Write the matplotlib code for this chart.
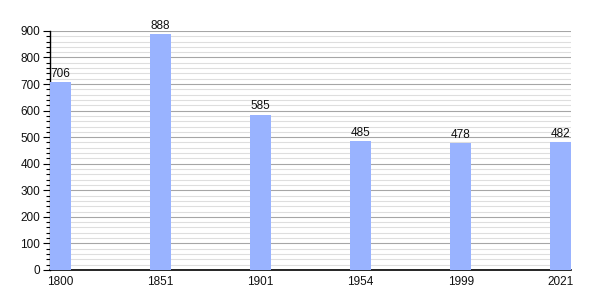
import matplotlib
matplotlib.use("Agg")
import matplotlib.pyplot as plt
from matplotlib.ticker import MultipleLocator

plt.rcParams["font.family"] = ["Liberation Sans", "DejaVu Sans"]

anni = ["1800", "1851", "1901", "1954", "1999", "2021"]
abitanti = [706, 888, 585, 485, 478, 482]

colore_barre = "#99b3ff"

fig = plt.figure(figsize=(6, 3), dpi=100)
ax = fig.add_axes([0.0833, 0.1, 0.8687, 0.797])

pos = list(range(len(anni)))
ax.bar(pos, abitanti, width=0.21, color=colore_barre, zorder=3)

for x, v in zip(pos, abitanti):
    ax.text(x, v + 8, str(v), ha="center", va="bottom", fontsize=8.5, color="#111111")

ax.set_xlim(-0.105, 5.105)
ax.set_ylim(0, 900)
ax.set_xticks(pos)
ax.set_xticklabels(anni)
ax.yaxis.set_major_locator(MultipleLocator(100))
ax.yaxis.set_minor_locator(MultipleLocator(20))

ax.grid(axis="y", which="major", color="#a6a6a6", linewidth=0.8, zorder=1)
ax.grid(axis="y", which="minor", color="#dedede", linewidth=0.8, zorder=1)

ax.tick_params(axis="x", length=0, labelsize=8.5, pad=4, labelcolor="#111111")
ax.tick_params(axis="y", which="major", length=5, width=0.8, labelsize=8.5, pad=2, labelcolor="#111111")
ax.tick_params(axis="y", which="minor", length=3, width=0.8)

for lato in ["top", "right"]:
    ax.spines[lato].set_visible(False)
ax.spines["left"].set_linewidth(1)
ax.spines["bottom"].set_linewidth(1.2)

fig.savefig("out.png", dpi=100)
